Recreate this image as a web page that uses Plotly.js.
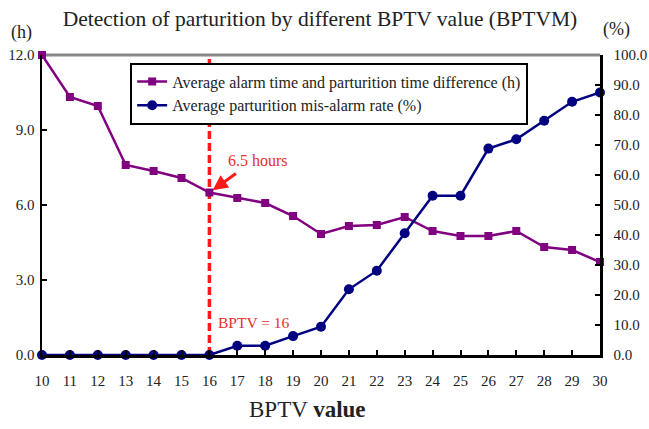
<!DOCTYPE html>
<html>
<head>
<meta charset="utf-8">
<script src="https://cdn.plot.ly/plotly-3.0.1.min.js"></script>
<style>html,body{margin:0;padding:0;background:#fff;}#chart{width:649px;height:429px;}</style>
</head>
<body>
<div id="chart"></div>
<script>
var bptv = [10,11,12,13,14,15,16,17,18,19,20,21,22,23,24,25,26,27,28,29,30];
var timeDiff = [12.0,10.32,9.96,7.6,7.36,7.08,6.5,6.28,6.08,5.56,4.84,5.16,5.2,5.52,4.96,4.76,4.76,4.96,4.32,4.2,3.72];
var misAlarm = [0,0,0,0,0,0,0,3.1,3.1,6.3,9.4,21.9,28.1,40.6,53.1,53.1,68.8,71.9,78.1,84.4,87.5];
var leftTicks = [0,3,6,9,12];
var leftTickText = ['0.0','3.0','6.0','9.0','12.0'];
var rightTicks = [0,10,20,30,40,50,60,70,80,90,100];
var rightTickText = ['0.0','10.0','20.0','30.0','40.0','50.0','60.0','70.0','80.0','90.0','100.0'];

var serif = 'Liberation Serif, Times New Roman, serif';
var traces = [
  {x: bptv, y: timeDiff, name: 'Average alarm time and parturition time difference (h)',
   type: 'scatter', mode: 'lines+markers', yaxis: 'y', cliponaxis: false,
   line: {color: '#800080', width: 2.5}, marker: {symbol: 'square', size: 8, color: '#800080'}},
  {x: bptv, y: misAlarm, name: 'Average parturition mis-alarm rate (%)',
   type: 'scatter', mode: 'lines+markers', yaxis: 'y2', cliponaxis: false,
   line: {color: '#000080', width: 2.5}, marker: {symbol: 'circle', size: 10, color: '#000080'}}
];

var layout = {
  width: 649, height: 429,
  margin: {l: 42, r: 49, t: 55, b: 74},
  paper_bgcolor: '#fff', plot_bgcolor: '#fff',
  font: {family: serif, color: '#222', size: 14},
  title: {text: 'Detection of parturition by different BPTV value (BPTVM)', x: 0.493, xanchor: 'center', y: 0.958, yanchor: 'middle',
          font: {family: serif, size: 21.5, color: '#222'}},
  showlegend: true,
  legend: {x: 0.158, y: 0.975, xanchor: 'left', yanchor: 'top', bgcolor: '#fff', bordercolor: '#000', borderwidth: 2,
           font: {family: serif, size: 16, color: '#222'}, tracegroupgap: 0},
  xaxis: {range: [10, 30], tickmode: 'array', tickvals: bptv, ticks: 'inside', ticklen: 5, tickwidth: 2, tickcolor: '#000',
          showline: true, linecolor: '#000', linewidth: 2.5, showgrid: false, zeroline: false, ticklabelstandoff: 10,
          tickfont: {family: serif, size: 15, color: '#222'}},
  yaxis: {range: [0, 12], tickmode: 'array', tickvals: leftTicks, ticktext: leftTickText, ticks: 'inside', ticklen: 5, tickwidth: 2,
          tickcolor: '#000', showline: true, linecolor: '#000', linewidth: 2.5, showgrid: false, zeroline: false, ticklabelstandoff: 2,
          tickfont: {family: serif, size: 15, color: '#222'}},
  yaxis2: {range: [0, 100], overlaying: 'y', side: 'right', tickmode: 'array', tickvals: rightTicks, ticktext: rightTickText,
           ticks: 'inside', ticklen: 5, tickwidth: 2, tickcolor: '#000', showline: true, linecolor: '#000', linewidth: 2.5,
           showgrid: false, zeroline: false, ticklabelstandoff: 8, tickfont: {family: serif, size: 15, color: '#222'}},
  shapes: [
    {type: 'line', xref: 'paper', yref: 'paper', x0: 0, x1: 1, y0: 1, y1: 1, line: {color: '#888', width: 3}, layer: 'below'},
    {type: 'line', xref: 'x', yref: 'paper', x0: 16, x1: 16, y0: 0, y1: 1, line: {color: '#ff1a1a', width: 3.5, dash: '8px,4px'}, layer: 'below'}
  ],
  annotations: [
    {xref: 'paper', yref: 'paper', x: -0.037, y: 1.075, xanchor: 'center', yanchor: 'middle', text: '(h)', showarrow: false,
     font: {family: serif, size: 18, color: '#222'}},
    {xref: 'paper', yref: 'paper', x: 1.03, y: 1.085, xanchor: 'center', yanchor: 'middle', text: '(%)', showarrow: false,
     font: {family: serif, size: 18, color: '#222'}},
    {xref: 'paper', yref: 'paper', x: 0.475, y: -0.183, xanchor: 'center', yanchor: 'middle', text: 'BPTV <b>value</b>', showarrow: false,
     font: {family: serif, size: 23, color: '#222'}},
    {xref: 'x', yref: 'y', x: 16, y: 6.5, text: '', showarrow: true, arrowhead: 2, arrowsize: 1, arrowwidth: 3,
     arrowcolor: '#ff1a1a', ax: 28, ay: -20, standoff: 4},
    {xref: 'x', yref: 'y', x: 16.6, y: 7.8, text: '6.5 hours', showarrow: false, xanchor: 'left', yanchor: 'middle',
     font: {family: serif, size: 16, color: '#e53030'}},
    {xref: 'x', yref: 'y', x: 16.25, y: 1.3, text: 'BPTV = 16', showarrow: false, xanchor: 'left', yanchor: 'middle',
     font: {family: serif, size: 15.5, color: '#e53030'}}
  ]
};
Plotly.newPlot('chart', traces, layout, {displayModeBar: false, staticPlot: true});
</script>
</body>
</html>
